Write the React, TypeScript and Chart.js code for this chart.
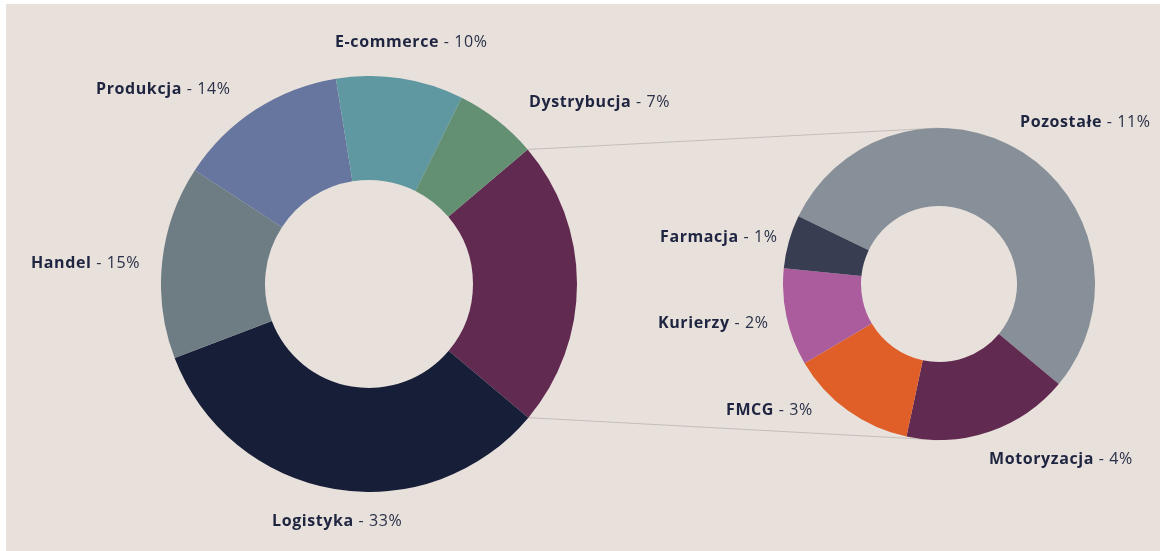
import React, { useEffect, useRef } from "react";
import { Chart, registerables } from "chart.js";

Chart.register(...registerables);

// Main doughnut (clockwise from the purple "rest" slice)
const mainLabels = ["Pozostałe branże", "Logistyka", "Handel", "Produkcja", "E-commerce", "Dystrybucja"];
const mainValues = [22.3, 33.1, 15.0, 13.25, 9.9, 6.45];
const mainColors = ["#612a50", "#171e38", "#6e7c84", "#67769e", "#5f98a0", "#638f73"];

// Detail doughnut (clockwise from Pozostałe)
const detailLabels = ["Pozostałe", "Motoryzacja", "FMCG", "Kurierzy", "Farmacja"];
const detailValues = [11.33, 3.63, 2.77, 2.12, 1.16];
const detailColors = ["#878f98", "#612a50", "#e05e27", "#ab5c9c", "#383d52"];

// Label texts
const labelNames = ["E-commerce", "Produkcja", "Dystrybucja", "Handel", "Logistyka", "Pozostałe", "Farmacja", "Kurierzy", "FMCG", "Motoryzacja"];
const labelPercents = ["10%", "14%", "7%", "15%", "33%", "11%", "1%", "2%", "3%", "4%"];

const labelPos = [
  [335, 41], [96, 88], [529, 101], [31, 262], [272, 520],
  [1020, 121], [660, 236], [658, 322], [726, 409], [989, 458],
];

const BG = "#e7e0db";

function baseOptions(rotation: number) {
  return {
    responsive: false,
    animation: false as const,
    rotation,
    cutout: "50%",
    layout: { padding: 0 },
    plugins: { legend: { display: false }, tooltip: { enabled: false } },
    events: [],
  };
}

export default function App() {
  const leftRef = useRef<HTMLCanvasElement>(null);
  const rightRef = useRef<HTMLCanvasElement>(null);
  const linesRef = useRef<HTMLCanvasElement>(null);

  useEffect(() => {
    const left = new Chart(leftRef.current!, {
      type: "doughnut",
      data: {
        labels: mainLabels,
        datasets: [{ data: mainValues, backgroundColor: mainColors, borderWidth: 0 }],
      },
      options: baseOptions(49.7) as any,
    });
    const right = new Chart(rightRef.current!, {
      type: "doughnut",
      data: {
        labels: detailLabels,
        datasets: [{ data: detailValues, backgroundColor: detailColors, borderWidth: 0 }],
      },
      options: baseOptions(-64.3) as any,
    });

    // connector lines, computed from the arcs
    const lc = linesRef.current!;
    const ctx = lc.getContext("2d")!;
    ctx.clearRect(0, 0, lc.width, lc.height);
    const la: any = left.getDatasetMeta(0).data[0];
    const ra: any = right.getDatasetMeta(0).data[0];
    const lOff = { x: 161, y: 76 };
    const rOff = { x: 783, y: 128 };
    const p1 = { x: lOff.x + la.x + la.outerRadius * Math.cos(la.startAngle), y: lOff.y + la.y + la.outerRadius * Math.sin(la.startAngle) };
    const p2 = { x: lOff.x + la.x + la.outerRadius * Math.cos(la.endAngle), y: lOff.y + la.y + la.outerRadius * Math.sin(la.endAngle) };
    const q1 = { x: rOff.x + ra.x, y: rOff.y + ra.y - ra.outerRadius };
    const q2 = { x: rOff.x + ra.x, y: rOff.y + ra.y + ra.outerRadius };
    ctx.strokeStyle = "#c4bdb8";
    ctx.lineWidth = 1;
    ctx.beginPath();
    ctx.moveTo(p1.x, p1.y);
    ctx.lineTo(q1.x, q1.y);
    ctx.moveTo(p2.x, p2.y);
    ctx.lineTo(q2.x, q2.y);
    ctx.stroke();

    return () => {
      left.destroy();
      right.destroy();
    };
  }, []);

  return (
    <div style={{ position: "absolute", left: 0, top: 0, width: 1160, height: 551, background: "#ffffff", overflow: "hidden" }}>
      <div style={{ position: "absolute", left: 6, top: 4, width: 1154, height: 547, background: BG }} />
      <canvas ref={linesRef} width={1160} height={551} style={{ position: "absolute", left: 0, top: 0 }} />
      <canvas ref={leftRef} width={416} height={416} style={{ position: "absolute", left: 161, top: 76, width: 416, height: 416 }} />
      <canvas ref={rightRef} width={312} height={312} style={{ position: "absolute", left: 783, top: 128, width: 312, height: 312 }} />
      {labelNames.map((n, i) => (
        <div
          key={n}
          style={{
            position: "absolute",
            left: labelPos[i][0],
            top: labelPos[i][1] - 11,
            height: 22,
            lineHeight: "22px",
            whiteSpace: "nowrap",
            fontFamily: "'Open Sans', sans-serif",
            fontSize: 16,
            letterSpacing: "0.6px",
            color: "#1f2540",
          }}
        >
          <span style={{ fontWeight: 700 }}>{n}</span>
          <span style={{ fontWeight: 400, color: "#2a3048" }}>{" - " + labelPercents[i]}</span>
        </div>
      ))}
    </div>
  );
}
